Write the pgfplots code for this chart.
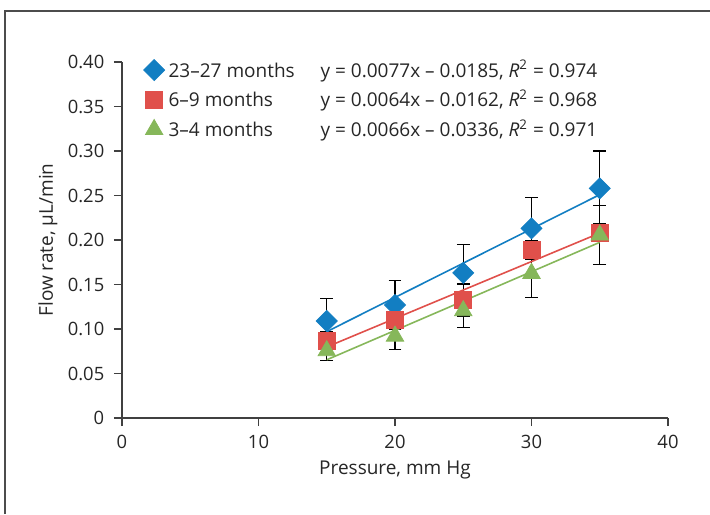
\documentclass[border=0pt]{standalone}
\usepackage{pgfplots}
\pgfplotsset{compat=1.18}
\usepackage{fontspec}
\setmainfont{Open Sans}
\definecolor{cblue}{HTML}{127EC2}
\definecolor{cred}{HTML}{E0504B}
\definecolor{cgreen}{HTML}{86B75A}
\definecolor{axgray}{HTML}{404040}
\begin{document}
\fontsize{9.5}{11}\selectfont
\begin{tikzpicture}
\useasboundingbox (-61pt,-48pt) rectangle (294pt,209pt);
\draw[color=black!70,line width=0.75pt] (-58.5pt,-48pt) -- (-58.5pt,203.5pt) -- (294pt,203.5pt);
\begin{axis}[
  at={(0pt,0pt)}, anchor=origin,
  scale only axis, width=273pt, height=178pt,
  xmin=0, xmax=40, ymin=0, ymax=0.4,
  axis lines=left, axis line style={-, color=axgray, line width=0.6pt},
  xtick={0,10,20,30,40},
  ytick={0,0.05,0.10,0.15,0.20,0.25,0.30,0.35,0.40},
  yticklabels={0,0.05,0.10,0.15,0.20,0.25,0.30,0.35,0.40},
  tick align=outside, major tick length=4pt,
  tick style={color=axgray, line width=0.6pt},
  /pgf/number format/assume math mode=true,
  every tick label/.append style={font=\fontsize{9.2}{11}\selectfont, color=black!85},
  xticklabel style={yshift=-1pt},
  yticklabel style={xshift=-1.5pt},
  xlabel={Pressure, mm Hg},
  ylabel={Flow rate, µL/min},
  xlabel style={at={(axis description cs:0.5,-0.146)}, anchor=center, font=\fontsize{9.5}{11}\selectfont, color=black!85},
  ylabel style={at={(axis description cs:-0.1355,0.5)}, anchor=center, font=\fontsize{9.5}{11}\selectfont, color=black!85},
  legend style={at={(axis description cs:0.039,1.018)}, anchor=north west, draw=none, fill=none,
    font=\fontsize{9.5}{11}\selectfont, row sep=0.8pt, inner sep=0pt, text=black!85},
  legend cell align=left,
  legend image code/.code={\draw[#1] plot coordinates {(0.25cm,0cm)};},
  clip=false,
]
% error bars
\addplot[forget plot, draw=none, mark=none, error bars/.cd, y dir=both, y explicit,
  error bar style={black, line width=0.55pt}, error mark options={rotate=90, mark size=3.2pt, black, line width=0.55pt}]
  coordinates {(15,0.109) +- (0,0.025) (20,0.127) +- (0,0.027) (25,0.163) +- (0,0.032) (30,0.213) +- (0,0.035) (35,0.258) +- (0,0.042)};
\addplot[forget plot, draw=none, mark=none, error bars/.cd, y dir=both, y explicit,
  error bar style={black, line width=0.55pt}, error mark options={rotate=90, mark size=3.2pt, black, line width=0.55pt}]
  coordinates {(15,0.087) +- (0,0.010) (20,0.110) +- (0,0.010) (25,0.1326) +- (0,0.018) (30,0.189) +- (0,0.010) (35,0.208) +- (0,0.010)};
\addplot[forget plot, draw=none, mark=none, error bars/.cd, y dir=both, y explicit,
  error bar style={black, line width=0.55pt}, error mark options={rotate=90, mark size=3.2pt, black, line width=0.55pt}]
  coordinates {(15,0.0756) +- (0,0.011) (20,0.092) +- (0,0.015) (25,0.1206) +- (0,0.019) (30,0.1625) +- (0,0.027) (35,0.2056) +- (0,0.033)};
% trend lines
\addplot[forget plot, cblue, line width=0.8pt, mark=none] coordinates {(15,0.097) (35,0.251)};
\addplot[forget plot, cred, line width=0.8pt, mark=none] coordinates {(15,0.0798) (35,0.2078)};
\addplot[forget plot, cgreen, line width=0.8pt, mark=none] coordinates {(15,0.0654) (35,0.1974)};
% markers
\addplot[only marks, mark=square*, mark size=3.7pt, mark options={rotate=45, fill=cblue, draw=cblue}] coordinates {(15,0.109) (20,0.127) (25,0.163) (30,0.213) (35,0.258)};
\addlegendentry{\makebox[76pt][l]{23–27 months}y = 0.0077x – 0.0185, \textit{R}\textsuperscript{2} = 0.974}
\addplot[only marks, mark=square*, mark size=4.2pt, mark options={fill=cred, draw=cred}] coordinates {(15,0.087) (20,0.110) (25,0.1326) (30,0.189) (35,0.208)};
\addlegendentry{\makebox[76pt][l]{6–9 months}y = 0.0064x – 0.0162, \textit{R}\textsuperscript{2} = 0.968}
\addplot[only marks, mark=triangle*, mark size=5pt, mark options={fill=cgreen, draw=cgreen}] coordinates {(15,0.0756) (20,0.092) (25,0.1206) (30,0.1625) (35,0.2056)};
\addlegendentry{\makebox[76pt][l]{3–4 months}y = 0.0066x – 0.0336, \textit{R}\textsuperscript{2} = 0.971}
\end{axis}
\end{tikzpicture}
\end{document}
